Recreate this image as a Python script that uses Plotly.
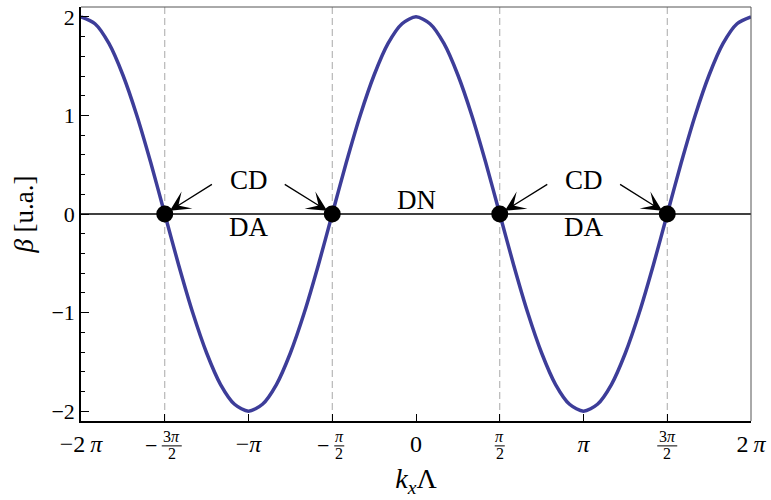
import plotly.graph_objects as go
import numpy as np

PI = np.pi

# Dispersion curve beta(kx*Lambda), sampled every pi/12 from -2pi to 2pi
k_samples = [i * PI / 12 for i in range(-24, 25)]
beta_samples = [2.00, 1.93, 1.73, 1.41, 1.00, 0.52, 0.00, -0.52, -1.00, -1.41, -1.73, -1.93,
                -2.00, -1.93, -1.73, -1.41, -1.00, -0.52, 0.00, 0.52, 1.00, 1.41, 1.73, 1.93,
                2.00, 1.93, 1.73, 1.41, 1.00, 0.52, 0.00, -0.52, -1.00, -1.41, -1.73, -1.93,
                -2.00, -1.93, -1.73, -1.41, -1.00, -0.52, 0.00, 0.52, 1.00, 1.41, 1.73, 1.93,
                2.00]

# Crossing (Dirac) points
cross_k = [-3 * PI / 2, -PI / 2, PI / 2, 3 * PI / 2]
cross_beta = [0, 0, 0, 0]

# x ticks: labelled multiples of pi, fractions drawn separately
xtick_vals = [-2 * PI, -PI, 0, PI, 2 * PI]
xtick_text = ["−2\u2009<i>π</i>", "−<i>π</i>", "0", "<i>π</i>", "2\u2009<i>π</i>"]
xminor_vals = [-3 * PI / 2, -PI / 2, PI / 2, 3 * PI / 2]
# fractional tick labels: (position, sign, numerator, denominator)
frac_ticks = [(-3 * PI / 2, "−", "3<i>π</i>", "2"),
              (-PI / 2, "−", "<i>π</i>", "2"),
              (PI / 2, "", "<i>π</i>", "2"),
              (3 * PI / 2, "", "3<i>π</i>", "2")]

ytick_vals = [-2, -1, 0, 1, 2]
ytick_text = ["−2", "−1", "0", "1", "2"]

# Region labels: (k, beta, text)
region_labels = [(-PI, 0.35, "CD"), (-PI, -0.13, "DA"), (0, 0.14, "DN"),
                 (PI, 0.35, "CD"), (PI, -0.13, "DA")]
# Arrows: (tail k, tail beta, head k, head beta)
arrows = [(-3.80, 0.31, -3 * PI / 2, 0), (-2.49, 0.31, -PI / 2, 0),
          (2.49, 0.31, PI / 2, 0), (3.80, 0.31, 3 * PI / 2, 0)]

SERIF = "Liberation Serif"

fig = go.Figure()

# dashed vertical guides
for xv in cross_k:
    fig.add_shape(type="line", xref="x", yref="paper", x0=xv, x1=xv, y0=0, y1=1,
                  line=dict(color="#a8a8a8", width=1, dash="7px,4px"), layer="below")

# horizontal axis line
fig.add_shape(type="line", xref="paper", yref="y", x0=0, x1=1, y0=0, y1=0,
              line=dict(color="black", width=1.5), layer="below")

fig.add_trace(go.Scatter(x=k_samples, y=beta_samples, mode="lines",
                         line=dict(color="#3d3d99", width=3.5, shape="spline", smoothing=0.8),
                         hoverinfo="skip", showlegend=False))

fig.add_trace(go.Scatter(x=cross_k, y=cross_beta, mode="markers",
                         marker=dict(color="black", size=17),
                         hoverinfo="skip", showlegend=False))

for kx, b, t in region_labels:
    fig.add_annotation(x=kx, y=b, text=t, showarrow=False,
                       font=dict(family=SERIF, size=27, color="black"))

for tx, ty, hx, hy in arrows:
    fig.add_annotation(x=hx, y=hy, ax=tx, ay=ty, axref="x", ayref="y", text="",
                       showarrow=True, arrowhead=3, arrowsize=2.6, arrowwidth=1.3,
                       arrowcolor="black", standoff=6)

for xv, sign, num, den in frac_ticks:
    shift = 7 if sign else 0
    fig.add_annotation(x=xv, y=-0.0373, xref="x", yref="paper", yanchor="middle",
                       text=num, showarrow=False, xshift=shift,
                       font=dict(family=SERIF, size=16, color="black"))
    fig.add_annotation(x=xv, y=-0.0793, xref="x", yref="paper", yanchor="middle",
                       text=den, showarrow=False, xshift=shift,
                       font=dict(family=SERIF, size=16, color="black"))
    half = 10 if "3" in num else 5
    fig.add_shape(type="line", xref="x", yref="paper", xsizemode="pixel", xanchor=xv,
                  x0=shift - half, x1=shift + half, y0=-0.0601, y1=-0.0601,
                  line=dict(color="black", width=1))
    if sign:
        fig.add_annotation(x=xv, y=-0.058, xref="x", yref="paper", yanchor="middle",
                           text=sign, showarrow=False,
                           xshift=-14 if "3" in num else -9,
                           font=dict(family=SERIF, size=22, color="black"))

fig.update_layout(
    width=771, height=500,
    margin=dict(l=81, r=17, t=5, b=79),
    plot_bgcolor="white", paper_bgcolor="white",
    font=dict(family=SERIF, size=22, color="black"),
    xaxis=dict(range=[-2 * PI, 2 * PI], tickmode="array", tickvals=xtick_vals,
               ticktext=xtick_text, ticks="inside", ticklen=7, tickwidth=1,
               tickcolor="black", showgrid=False, zeroline=False,
               showline=True, linecolor="black", linewidth=1.5, mirror=False,
               tickfont=dict(family=SERIF, size=24),
               minor=dict(tickmode="array", tickvals=xminor_vals, ticks="inside",
                          ticklen=7, tickwidth=1, tickcolor="black", showgrid=False),
               title=dict(text="<i>k<sub>x</sub></i>Λ", font=dict(family=SERIF, size=28),
                          standoff=13)),
    yaxis=dict(range=[-2.1, 2.1], tickmode="array", tickvals=ytick_vals,
               ticktext=ytick_text, ticks="inside", ticklen=8, tickwidth=1,
               tickcolor="black", showgrid=False, zeroline=False,
               showline=True, linecolor="black", linewidth=1.5, mirror=False,
               tickfont=dict(family=SERIF, size=22),
               minor=dict(dtick=0.2, ticks="inside", ticklen=4, tickwidth=1,
                          tickcolor="black", showgrid=False),
               title=dict(text="<i>β</i> [u.a.]", font=dict(family=SERIF, size=27),
                          standoff=10)),
)

# thin right and top frame edges
fig.add_shape(type="line", xref="paper", yref="paper", x0=1, x1=1, y0=0, y1=1,
              line=dict(color="#555555", width=1))
fig.add_shape(type="line", xref="paper", yref="paper", x0=0, x1=1, y0=1, y1=1,
              line=dict(color="#555555", width=1))

fig.write_html("out.html")
